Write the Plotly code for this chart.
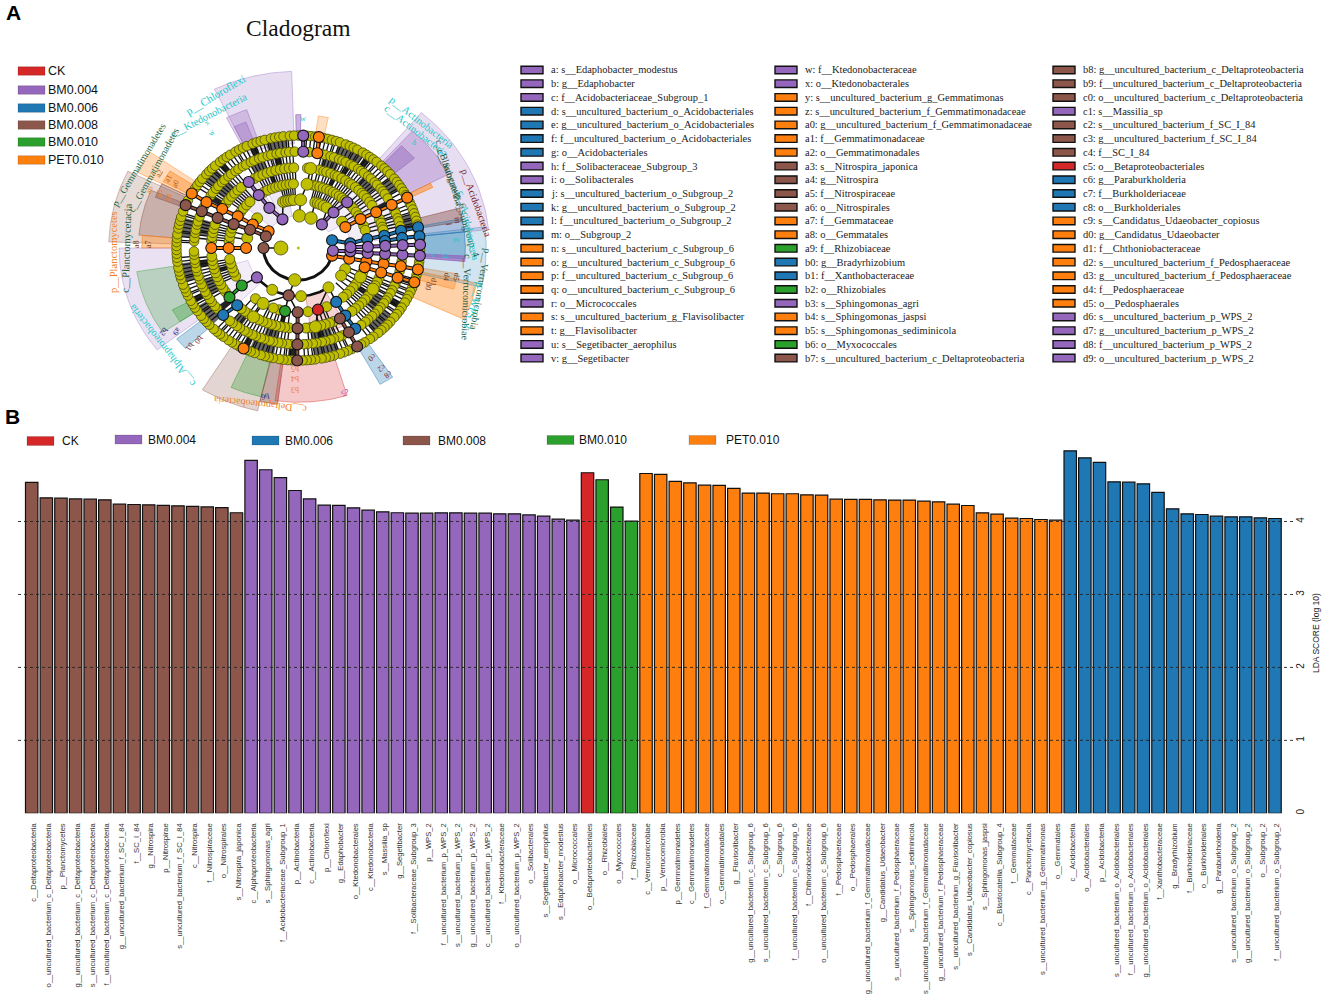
# LEfSe figure: cladogram (A) and LDA score bars (B)
import numpy as np
import plotly.graph_objects as go

W, H = 1325, 998
SERIF = "Liberation Serif"
SANS = "Liberation Sans"

group_colors = {"CK": "#d62728", "BM0.004": "#9467bd", "BM0.006": "#1f77b4",
                "BM0.008": "#8c564b", "BM0.010": "#2ca02c", "PET0.010": "#ff7f0e"}
YEL = "#bfbf00"

# --- panel B data ---
bar_labels_brown = ["c__Deltaproteobacteria", "o__uncultured_bacterium_c_Deltaproteobacteria", "p__Planctomycetes",
                    "g__uncultured_bacterium_c_Deltaproteobacteria", "s__uncultured_bacterium_c_Deltaproteobacteria",
                    "f__uncultured_bacterium_c_Deltaproteobacteria", "g__uncultured_bacterium_f_SC_I_84", "f__SC_I_84",
                    "g__Nitrospira", "p__Nitrospirae", "s__uncultured_bacterium_f_SC_I_84", "c__Nitrospira",
                    "f__Nitrospiraceae", "o__Nitrospirales", "s__Nitrospira_japonica"]
bar_values_brown = [4.535, 4.325, 4.32, 4.31, 4.306, 4.297, 4.238, 4.233, 4.229, 4.22, 4.215, 4.206, 4.20, 4.19, 4.12]
bar_labels_purple = ["c__Alphaproteobacteria", "s__Sphingomonas_agri", "f__Acidobacteriaceae_Subgroup_1",
                     "p__Actinobacteria", "c__Actinobacteria", "p__Chloroflexi", "g__Edaphobacter",
                     "o__Ktedonobacterales", "c__Ktedonobacteria", "s__Massilia_sp", "g__Segetibacter",
                     "f__Solibacteraceae_Subgroup_3", "p__WPS_2", "f__uncultured_bacterium_p_WPS_2",
                     "s__uncultured_bacterium_p_WPS_2", "g__uncultured_bacterium_p_WPS_2",
                     "c__uncultured_bacterium_p_WPS_2", "f__Ktedonobacteraceae", "o__uncultured_bacterium_p_WPS_2",
                     "o__Solibacterales", "s__Segetibacter_aerophilus", "s__Edaphobacter_modestus", "o__Micrococcales"]
bar_values_purple = [4.837, 4.709, 4.60, 4.425, 4.31, 4.224, 4.22, 4.187, 4.155, 4.133, 4.12, 4.114, 4.114,
                     4.119, 4.119, 4.114, 4.114, 4.105, 4.105, 4.09, 4.073, 4.032, 4.018]
bar_labels_red = ["o__Betaproteobacteriales"]
bar_values_red = [4.668]
bar_labels_green = ["o__Rhizobiales", "o__Myxococcales", "f__Rhizobiaceae"]
bar_values_green = [4.572, 4.197, 4.005]
bar_labels_orange = ["c__Verrucomicrobiae", "p__Verrucomicrobia", "p__Gemmatimonadetes", "c__Gemmatimonadetes",
                     "f__Gemmatimonadaceae", "o__Gemmatimonadales", "g__Flavisolibacter",
                     "g__uncultured_bacterium_c_Subgroup_6", "s__uncultured_bacterium_c_Subgroup_6", "c__Subgroup_6",
                     "f__uncultured_bacterium_c_Subgroup_6", "f__Chthoniobacteraceae",
                     "o__uncultured_bacterium_c_Subgroup_6", "f__Pedosphaeraceae", "o__Pedosphaerales",
                     "g__uncultured_bacterium_f_Gemmatimonadaceae", "g__Candidatus_Udaeobacter",
                     "s__uncultured_bacterium_f_Pedosphaeraceae", "s__Sphingomonas_sediminicola",
                     "s__uncultured_bacterium_f_Gemmatimonadaceae", "g__uncultured_bacterium_f_Pedosphaeraceae",
                     "s__uncultured_bacterium_g_Flavisolibacter", "s__Candidatus_Udaeobacter_copiosus",
                     "s__Sphingomonas_jaspsi", "c__Blastocatellia_Subgroup_4", "f__Gemmataceae", "c__Planctomycetacia",
                     "s__uncultured_bacterium_g_Gemmatimonas", "o__Gemmatales"]
bar_values_orange = [4.658, 4.645, 4.549, 4.53, 4.498, 4.494, 4.453, 4.389, 4.389, 4.38, 4.38, 4.366, 4.361, 4.306,
                     4.302, 4.302, 4.297, 4.293, 4.293, 4.279, 4.27, 4.238, 4.219, 4.119, 4.10, 4.046, 4.041, 4.027, 4.018]
bar_labels_blue = ["c__Acidobacteria", "o__Acidobacteriales", "p__Acidobacteria",
                   "s__uncultured_bacterium_o_Acidobacteriales", "f__uncultured_bacterium_o_Acidobacteriales",
                   "g__uncultured_bacterium_o_Acidobacteriales", "f__Xanthobacteraceae", "g__Bradyrhizobium",
                   "f__Burkholderiaceae", "o__Burkholderiales", "g__Paraburkholderia",
                   "s__uncultured_bacterium_o_Subgroup_2", "g__uncultured_bacterium_o_Subgroup_2", "o__Subgroup_2",
                   "f__uncultured_bacterium_o_Subgroup_2"]
bar_values_blue = [4.969, 4.873, 4.809, 4.544, 4.539, 4.516, 4.398, 4.174, 4.105, 4.096, 4.073, 4.064, 4.064, 4.05, 4.041]
grid_levels = [1, 2, 3, 4]

# --- taxa key of panel A, one list per column ---
key_col1 = [("a: s__Edaphobacter_modestus", "BM0.004"), ("b: g__Edaphobacter", "BM0.004"),
            ("c: f__Acidobacteriaceae_Subgroup_1", "BM0.004"), ("d: s__uncultured_bacterium_o_Acidobacteriales", "BM0.006"),
            ("e: g__uncultured_bacterium_o_Acidobacteriales", "BM0.006"), ("f: f__uncultured_bacterium_o_Acidobacteriales", "BM0.006"),
            ("g: o__Acidobacteriales", "BM0.006"), ("h: f__Solibacteraceae_Subgroup_3", "BM0.004"),
            ("i: o__Solibacterales", "BM0.004"), ("j: s__uncultured_bacterium_o_Subgroup_2", "BM0.006"),
            ("k: g__uncultured_bacterium_o_Subgroup_2", "BM0.006"), ("l: f__uncultured_bacterium_o_Subgroup_2", "BM0.006"),
            ("m: o__Subgroup_2", "BM0.006"), ("n: s__uncultured_bacterium_c_Subgroup_6", "PET0.010"),
            ("o: g__uncultured_bacterium_c_Subgroup_6", "PET0.010"), ("p: f__uncultured_bacterium_c_Subgroup_6", "PET0.010"),
            ("q: o__uncultured_bacterium_c_Subgroup_6", "PET0.010"), ("r: o__Micrococcales", "BM0.004"),
            ("s: s__uncultured_bacterium_g_Flavisolibacter", "PET0.010"), ("t: g__Flavisolibacter", "PET0.010"),
            ("u: s__Segetibacter_aerophilus", "BM0.004"), ("v: g__Segetibacter", "BM0.004")]
key_col2 = [("w: f__Ktedonobacteraceae", "BM0.004"), ("x: o__Ktedonobacterales", "BM0.004"),
            ("y: s__uncultured_bacterium_g_Gemmatimonas", "PET0.010"), ("z: s__uncultured_bacterium_f_Gemmatimonadaceae", "PET0.010"),
            ("a0: g__uncultured_bacterium_f_Gemmatimonadaceae", "PET0.010"), ("a1: f__Gemmatimonadaceae", "PET0.010"),
            ("a2: o__Gemmatimonadales", "PET0.010"), ("a3: s__Nitrospira_japonica", "BM0.008"),
            ("a4: g__Nitrospira", "BM0.008"), ("a5: f__Nitrospiraceae", "BM0.008"), ("a6: o__Nitrospirales", "BM0.008"),
            ("a7: f__Gemmataceae", "PET0.010"), ("a8: o__Gemmatales", "PET0.010"), ("a9: f__Rhizobiaceae", "BM0.010"),
            ("b0: g__Bradyrhizobium", "BM0.006"), ("b1: f__Xanthobacteraceae", "BM0.006"), ("b2: o__Rhizobiales", "BM0.010"),
            ("b3: s__Sphingomonas_agri", "BM0.004"), ("b4: s__Sphingomonas_jaspsi", "PET0.010"),
            ("b5: s__Sphingomonas_sediminicola", "PET0.010"), ("b6: o__Myxococcales", "BM0.010"),
            ("b7: s__uncultured_bacterium_c_Deltaproteobacteria", "BM0.008")]
key_col3 = [("b8: g__uncultured_bacterium_c_Deltaproteobacteria", "BM0.008"), ("b9: f__uncultured_bacterium_c_Deltaproteobacteria", "BM0.008"),
            ("c0: o__uncultured_bacterium_c_Deltaproteobacteria", "BM0.008"), ("c1: s__Massilia_sp", "BM0.004"),
            ("c2: s__uncultured_bacterium_f_SC_I_84", "BM0.008"), ("c3: g__uncultured_bacterium_f_SC_I_84", "BM0.008"),
            ("c4: f__SC_I_84", "BM0.008"), ("c5: o__Betaproteobacteriales", "CK"), ("c6: g__Paraburkholderia", "BM0.006"),
            ("c7: f__Burkholderiaceae", "BM0.006"), ("c8: o__Burkholderiales", "BM0.006"),
            ("c9: s__Candidatus_Udaeobacter_copiosus", "PET0.010"), ("d0: g__Candidatus_Udaeobacter", "PET0.010"),
            ("d1: f__Chthoniobacteraceae", "PET0.010"), ("d2: s__uncultured_bacterium_f_Pedosphaeraceae", "PET0.010"),
            ("d3: g__uncultured_bacterium_f_Pedosphaeraceae", "PET0.010"), ("d4: f__Pedosphaeraceae", "PET0.010"),
            ("d5: o__Pedosphaerales", "PET0.010"), ("d6: s__uncultured_bacterium_p_WPS_2", "BM0.004"),
            ("d7: g__uncultured_bacterium_p_WPS_2", "BM0.004"), ("d8: f__uncultured_bacterium_p_WPS_2", "BM0.004"),
            ("d9: o__uncultured_bacterium_p_WPS_2", "BM0.004")]

# --- cladogram data: angles are compass degrees, levels are tree depth ---
yellow_l7 = [0, 4, 6, 8, 12, 14, 16, 18, 20, 23, 25, 27, 29, 32, 34, 36, 38, 40, 43, 45, 47, 49, 52, 54, 56, 58, 60, 62, 66,
             68, 70, 72, 74, 76, 78, 81, 86, 91, 97, 99, 104, 106, 109, 111, 113, 115, 117, 119, 122, 124, 126, 128, 131, 133,
             135, 137, 139, 142, 144, 147, 149, 154, 156, 158, 160, 163, 165, 167, 169, 172, 174, 176, 178, 183, 185, 187, 189,
             192, 194, 196, 198, 201, 203, 205, 209, 211, 213, 215, 218, 220, 222, 224, 227, 229, 231, 233, 236, 238, 240, 242,
             245, 247, 249, 251, 254, 256, 258, 260, 263, 265, 267, 269, 271, 273, 275, 277, 280, 282, 284, 286, 289, 295, 302,
             304, 306, 308, 311, 313, 315, 317, 320, 322, 324, 326, 329, 331, 333, 335, 338, 340, 342, 344, 347, 349, 351, 353,
             356, 358]
yellow_l6 = [6, 13, 15, 18, 20, 23, 25, 27, 30, 32, 35, 37, 39, 42, 44, 47, 49, 52, 54, 56, 59, 67, 69, 72, 74, 77, 98, 104, 111,
             113, 116, 118, 121, 123, 125, 128, 130, 133, 135, 138, 140, 143, 155, 157, 160, 162, 165, 167, 170, 172, 175, 177,
             184, 186, 189, 191, 194, 196, 199, 201, 204, 206, 209, 211, 214, 216, 219, 221, 231, 233, 236, 238, 241, 243, 246,
             248, 251, 253, 256, 258, 261, 263, 266, 268, 274, 276, 279, 281, 284, 286, 289, 295, 303, 305, 308, 310, 313, 315,
             318, 320, 323, 325, 328, 330, 333, 335, 338, 340, 343, 345, 348, 350, 353, 355, 358]
yellow_l5 = [6, 14, 17, 19, 22, 25, 27, 30, 33, 36, 38, 41, 44, 47, 49, 52, 55, 58, 69, 72, 75, 77, 98, 112, 115, 118, 121, 124,
             127, 130, 133, 136, 139, 142, 156, 159, 162, 165, 172, 175, 186, 189, 192, 195, 198, 201, 204, 207, 215, 218, 221,
             237, 240, 243, 246, 249, 252, 255, 258, 261, 264, 275, 278, 281, 284, 287, 304, 307, 310, 313, 316, 319, 330, 333,
             336, 339, 342, 345, 348, 351, 354, 357]
yellow_l4 = [12, 15, 18, 21, 24, 27, 30, 33, 36, 39, 42, 49, 52, 56, 60, 70, 74, 112, 116, 120, 124, 128, 132, 136, 140, 156,
             172, 196, 201, 218, 244, 248, 252, 256, 260, 276, 280, 284, 288, 304, 308, 312, 316, 330, 334, 338, 341, 344, 347,
             350, 353, 356]
yellow_l3 = [19, 22, 25, 29, 33, 57, 116, 125, 144.7, 177, 210, 282, 308, 343, 346, 349, 352, 355]
yellow_l2 = [1.7, 21.3, 185.9]
yellow_l1 = [270]

# coloured clade nodes: (group, list of (level, angle)) - one chain per clade
clade_chains = [
    ("PET0.010", [(2, 301.4), (3, 299.2), (4, 299.5), (5, 299), (6, 298.4), (7, 299)]),
    ("BM0.008", [(2, 291.3), (3, 292.3), (4, 291.8), (5, 292), (6, 292.4), (7, 292.4)]),
    ("BM0.008", [(2, 270)]),
    ("PET0.010", [(3, 270), (4, 270), (5, 270)]),
    ("BM0.004", [(2, 333), (3, 326.3), (4, 325.4), (5, 325.3)]),
    ("BM0.004", [(2, 42.7), (3, 42.4), (4, 44.6)]),
    ("PET0.010", [(3, 64.3), (4, 63.3), (5, 63.5), (6, 63.4), (7, 63.4)]),
    ("BM0.006", [(2, 76), (3, 84.5), (4, 82), (5, 81.2), (6, 79.7), (7, 79.4)]),
    ("BM0.006", [(5, 85), (6, 84), (7, 84)]),
    ("PET0.010", [(2, 103.8), (3, 102.9), (4, 102), (5, 101.5), (6, 100.9), (7, 101)]),
    ("PET0.010", [(4, 107.5), (5, 107.7), (6, 107.9), (7, 107.7)]),
    ("BM0.004", [(2, 94.8), (3, 94), (4, 94.5), (5, 94.2), (6, 94), (7, 93.9)]),
    ("BM0.004", [(3, 89), (4, 89), (5, 88.5), (6, 88.3), (7, 88.3)]),
    ("BM0.008", [(4, 180.5), (5, 180.5), (6, 180.5), (7, 180.5)]),
    ("BM0.006", [(4, 147), (5, 147.3), (6, 146.9)]),
    ("BM0.008", [(5, 151.4), (6, 151), (7, 151.1)]),
    ("BM0.010", [(4, 234.3), (5, 232.3)]),
    ("BM0.006", [(5, 224.6), (6, 226)]),
    ("BM0.010", [(4, 191)]),
    ("CK", [(4, 163.6)]),
    ("BM0.008", [(3, 190.6)]),
    ("BM0.004", [(3, 232.4)]),
    ("BM0.004", [(6, 2.7), (7, 2.3)]),
    ("PET0.010", [(6, 10.5), (7, 9.7)]),
    ("PET0.010", [(7, 206.7)]),
]
# plain black branches between yellow nodes
branch_chains = [[(1, 270), (2, 270)], [(2, 1.7), (3, 2.5), (4, 7.2), (5, 8.1)], [(2, 21.3), (3, 19)],
                 [(3, 190.6), (2, 185.9)], [(3, 190.6), (4, 210.4), (5, 211)], [(3, 190.6), (4, 180.5)],
                 [(3, 190.6), (4, 191)], [(3, 144.7), (4, 147)], [(3, 144.7), (4, 163.6), (5, 168.6)],
                 [(3, 232.4), (4, 234.3)], [(2, 333), (3, 343)], [(2, 42.7), (3, 34)]]
yellow_big = [(4, 210.4), (5, 211), (5, 168.6), (4, 7.2), (5, 8.1), (3, 2.5), (4, 116.7), (5, 120.8)]
arc_levels = [2, 3, 4, 5]
arc_starts = [94, 144.7, 147, 201]
arc_ends = [270, 232.4, 191, 224.6]
arc_widths = [3, 2.6, 1.5, 1]

# clade wedges: group, first angle, last angle, inner level, outer level, alpha
wedge_groups = ["BM0.004", "BM0.004", "BM0.004", "BM0.004", "BM0.004", "BM0.004", "BM0.004", "PET0.010", "PET0.010",
                "BM0.008", "BM0.008", "BM0.008", "PET0.010", "BM0.004", "BM0.010", "BM0.010", "BM0.006", "BM0.008",
                "BM0.010", "BM0.008", "CK", "CK", "BM0.006", "PET0.010", "PET0.010", "BM0.006", "BM0.006", "BM0.004",
                "BM0.004", "BM0.004", "BM0.004", "PET0.010", "BM0.008", "BM0.006", "BM0.004", "PET0.010", "BM0.004"]
wedge_from = [334, 333, 334, 40, 42, 43, 333, 297, 298, 272, 275, 291, 270, 232, 236, 236, 226, 193, 193, 187, 163, 150,
              146, 102, 100, 83, 84, 93, 310, 40, 60, 62, 75, 79, 359, 8, 225]
wedge_to = [358, 341, 339, 84, 62, 50, 350, 305, 303, 296, 293, 297, 275, 270, 261, 242, 231, 212, 204, 193, 188, 172,
            151, 115, 106, 103, 94, 95, 330, 60, 84, 64, 80, 84, 361, 12, 255]
wedge_inner = [6.5, 7, 7, 7, 7, 7, 2, 7, 7, 7, 7, 7, 7, 7, 7, 7, 7, 7, 7, 7, 7, 3, 7, 7, 7, 7, 7, 7, 2, 2, 3, 7, 7, 7, 7, 7, 3]
wedge_outer = [11, 9.1, 8.4, 11, 9.8, 8.7, 6, 10.4, 8.8, 10.9, 9.2, 8.8, 9, 10.3, 9.4, 8.2, 9, 10.4, 9.5, 9.8, 9.6, 5.5,
               9.7, 10.5, 9.3, 10.8, 9.6, 9.6, 5, 6, 6, 8.6, 9.6, 9.6, 8.3, 8.3, 5]
wedge_alpha = [.22, .3, .35, .22, .32, .45, .15, .28, .38, .22, .32, .4, .4, .2, .25, .3, .3, .25, .3, .5, .25, .2, .3, .36, .3,
               .2, .4, .7, .15, .12, .12, .5, .45, .3, .5, .25, .12]

# stripes between rings (radial branch bundles); grey and dark runs where they merge
stripes_67 = [2, 4, 6, 8, 10, 11, 13, 15, 17, 18, 20, 21, 23, 25, 27, 28, 30, 31, 33, 35, 37, 38, 40, 41, 43, 45, 47, 48, 50,
              51, 53, 55, 57, 58, 60, 67, 69, 71, 72, 74, 75, 77, 78, 106, 107, 109, 110, 112, 113, 115, 116, 118, 120, 122, 123,
              125, 126, 128, 130, 132, 133, 135, 137, 139, 140, 142, 144, 155, 156, 158, 160, 161, 163, 165, 167, 168, 170, 172,
              173, 175, 177, 184, 186, 187, 189, 191, 193, 195, 196, 198, 200, 202, 203, 205, 207, 209, 211, 212, 214, 216, 218,
              220, 221, 223, 228, 230, 232, 234, 235, 237, 239, 241, 243, 245, 246, 248, 250, 252, 254, 255, 257, 259, 261, 263,
              265, 273, 274, 276, 278, 279, 281, 283, 285, 287, 288, 303, 305, 307, 308, 310, 312, 314, 315, 317, 319, 321, 323,
              325, 327, 329, 330, 332, 334, 336, 338, 339, 341, 343, 345, 346, 348, 350, 352, 354, 355, 357]
stripes_56 = [13, 15, 16, 18, 20, 21, 23, 25, 27, 28, 30, 32, 33, 35, 37, 39, 41, 42, 44, 46, 48, 50, 51, 53, 55, 57, 68, 70,
              71, 73, 75, 77, 112, 114, 115, 117, 119, 120, 122, 124, 126, 128, 129, 131, 133, 135, 137, 139, 141, 156, 158, 159,
              161, 163, 165, 167, 168, 170, 172, 174, 186, 188, 190, 192, 194, 196, 197, 199, 201, 203, 205, 207, 209, 211, 213,
              215, 216, 218, 220, 238, 240, 242, 244, 246, 248, 250, 252, 254, 256, 258, 260, 262, 264, 276, 278, 280, 281, 283,
              285, 287, 305, 307, 309, 311, 313, 315, 317, 319, 321, 323, 330, 332, 334, 336, 338, 340, 342, 344, 345, 347, 349,
              351, 353, 355, 357]
stripes_45 = [10, 13, 15, 18, 20, 22, 24, 26, 29, 31, 33, 35, 37, 39, 41, 46, 49, 51, 53, 56, 59, 70, 73, 76, 114, 116, 118, 120,
              122, 124, 127, 129, 131, 133, 135, 138, 140, 158, 160, 163, 166, 187, 190, 192, 195, 197, 200, 203, 205, 212, 215,
              220, 244, 246, 248, 250, 252, 254, 256, 258, 260, 276, 278, 280, 282, 284, 286, 288, 306, 308, 310, 312, 314, 316,
              318, 320, 332, 334, 336, 338, 340, 342, 344, 346, 348, 350, 352, 354, 356, 358]
stripes_34 = [14, 16, 18, 20, 22, 25, 27, 29, 31, 34, 37, 39, 54, 58, 113, 117, 121, 125, 130, 135, 280, 285, 345, 347, 349, 351,
              353, 355, 357]
grey_from_67 = [20, 50, 72, 128, 160, 192, 226, 252, 276, 308, 344]
grey_to_67 = [33, 58, 80, 140, 172, 204, 238, 262, 286, 316, 354]
grey_from_56 = [14, 40, 122, 160, 192, 214, 240, 278, 306, 332]
grey_to_56 = [24, 50, 132, 172, 200, 220, 250, 288, 316, 340]
dark_from_67 = [34, 120, 181, 205, 240, 318, 336]
dark_to_67 = [37, 123, 185, 208, 243, 321, 339]
dark_from_56 = [28, 60, 165, 228, 258, 300, 346]
dark_to_56 = [31, 63, 168, 232, 262, 304, 350]
dark_from_45 = [24, 124, 190, 252, 340]
dark_to_45 = [27, 127, 193, 255, 343]

# --- texts: (text, x px, y px, angle, colour, size) ---
clade_texts = [
    ("p__Chloroflexi", 215, 95, -31, "#19c8c8", 11), ("c__Ktedonobacteria", 208, 115, -27, "#19c8c8", 10.5),
    ("p__Gemmatimonadetes", 138, 165, -59, "#1f6b4a", 10), ("c__Gemmatimonadetes", 153, 170, -61, "#1f6b4a", 10),
    ("p__Planctomycetes", 113, 252, -90, "#f08020", 10.5), ("c__Planctomycetacia", 126, 248, -88, "#1f5a3a", 10.5),
    ("c__Alphaproteobacteria", 162, 346, -128, "#19c8c8", 10.5), ("c__Deltaproteobacteria", 260, 404, -174, "#f08020", 10),
    ("p__Actinobacteria", 422, 122, 38, "#19c8c8", 10.5), ("c__Actinobacteria", 416, 130, 38, "#19c8c8", 10.5),
    ("c__Blastocatellia_Subgroup_4", 457, 198, 72, "#1f5a3a", 10), ("c__Subgroup_6", 452, 178, 68, "#1f5a3a", 10),
    ("p__Acidobacteria", 477, 203, 70, "#7a1f1f", 10), ("c__Acidobacteria", 469, 225, 78, "#19c8c8", 10),
    ("p__Verrucomicrobia", 480, 290, 100, "#1f6b4a", 10), ("c__Verrucomicrobiae", 467, 297, 92, "#1f5a3a", 10),
    ("p__WPS_2", 474, 306, 106, "#19c8c8", 10.5),
]
letter_texts = [
    ("a2", 159, 173, -60, "#b06010"), ("a1", 168, 178, -60, "#b06010"), ("a0", 176, 184, -62, "#b06010"),
    ("a6", 150, 190, -70, "#f08020"), ("a5", 159, 193, -70, "#f08020"), ("a4", 168, 197, -70, "#f08020"),
    ("a8", 136, 244, -90, "#6a3a20"), ("a7", 148, 244, -90, "#6a3a20"), ("x", 207, 123, -50, "#19c8c8"),
    ("w", 212, 133, -50, "#19c8c8"), ("b2", 164, 332, 125, "#202070"), ("a9", 177, 332, 125, "#202070"),
    ("b1", 190, 347, 125, "#7a1f1f"), ("b0", 199, 340, 125, "#7a1f1f"), ("b5", 295, 368, 180, "#f08020"),
    ("b4", 295, 379, 180, "#f08020"), ("b3", 295, 390, 180, "#f08020"), ("b6", 265, 396, 170, "#202070"),
    ("c5", 345, 393, 155, "#c020c0"), ("c0", 372, 358, 145, "#7a1f1f"), ("c2", 381, 368, 145, "#7a1f1f"),
    ("c8", 388, 375, 145, "#7a1f1f"), ("d4", 447, 277, 100, "#6a3a20"), ("d1", 433, 282, 100, "#6a3a20"),
    ("d0", 428, 286, 100, "#6a3a20"), ("d5", 457, 277, 100, "#6a3a20"), ("m", 458, 220, 80, "#7a1f1f"),
    ("l", 449, 224, 85, "#7a1f1f"), ("g", 458, 240, 90, "#19c8c8"), ("d", 446, 256, 92, "#19c8c8"),
    ("e", 434, 256, 92, "#19c8c8"), ("b", 414, 143, 40, "#19c8c8"), ("w", 303, 119, -5, "#19c8c8"),
]

# pixel layout helpers
def fx(px):
    return px / W

def fy(py):
    return 1 - py / H

def pos(level, angle):
    a = np.radians(angle)
    return level * np.sin(a), level * np.cos(a)

fig = go.Figure()

# --- panel B ---
bar_labels = bar_labels_brown + bar_labels_purple + bar_labels_red + bar_labels_green + bar_labels_orange + bar_labels_blue
bar_values = bar_values_brown + bar_values_purple + bar_values_red + bar_values_green + bar_values_orange + bar_values_blue
bar_colors = ([group_colors["BM0.008"]] * len(bar_labels_brown) + [group_colors["BM0.004"]] * len(bar_labels_purple)
              + [group_colors["CK"]] * len(bar_labels_red) + [group_colors["BM0.010"]] * len(bar_labels_green)
              + [group_colors["PET0.010"]] * len(bar_labels_orange) + [group_colors["BM0.006"]] * len(bar_labels_blue))
fig.add_trace(go.Bar(x=bar_labels, y=bar_values, marker=dict(color=bar_colors, line=dict(color="#111", width=1.2)),
                     width=0.85, showlegend=False))

# --- panel A, wedges first so nodes sit on top ---
for g, t0, t1, r0, r1, al in zip(wedge_groups, wedge_from, wedge_to, wedge_inner, wedge_outer, wedge_alpha):
    th = np.linspace(t0, t1, 24)
    xo, yo = pos(r1, th)
    xi, yi = pos(r0, th[::-1])
    c = group_colors[g]
    rgb = tuple(int(c[i:i + 2], 16) for i in (1, 3, 5))
    fig.add_trace(go.Scatter(x=np.r_[xo, xi, xo[0]], y=np.r_[yo, yi, yo[0]], mode="lines", fill="toself",
                             fillcolor="rgba(%d,%d,%d,%.2f)" % (*rgb, al),
                             line=dict(color="rgba(%d,%d,%d,%.2f)" % (*rgb, min(al + .15, 1)), width=1),
                             xaxis="x2", yaxis="y2", showlegend=False, hoverinfo="skip"))

def add_sectors(level, starts, ends, color):
    for t0, t1 in zip(starts, ends):
        th = np.linspace(t0, t1, 6)
        xo, yo = pos(level + 0.9, th)
        xi, yi = pos(level + 0.1, th[::-1])
        fig.add_trace(go.Scatter(x=np.r_[xo, xi], y=np.r_[yo, yi], mode="lines", fill="toself", fillcolor=color,
                                 line=dict(width=0), xaxis="x2", yaxis="y2", showlegend=False, hoverinfo="skip"))

def add_stripes(level, angles, width=1.3):
    xs, ys = [], []
    for t in angles:
        x0, y0 = pos(level + 0.05, t)
        x1, y1 = pos(level + 0.95, t)
        xs += [x0, x1, None]
        ys += [y0, y1, None]
    fig.add_trace(go.Scatter(x=xs, y=ys, mode="lines", line=dict(color="#111111", width=width), xaxis="x2", yaxis="y2",
                             showlegend=False, hoverinfo="skip"))

add_sectors(6, grey_from_67, grey_to_67, "#666666")
add_sectors(5, grey_from_56, grey_to_56, "#666666")
add_sectors(6, dark_from_67, dark_to_67, "#222222")
add_sectors(5, dark_from_56, dark_to_56, "#222222")
add_sectors(4, dark_from_45, dark_to_45, "#222222")
add_stripes(6, stripes_67)
add_stripes(5, stripes_56)
add_stripes(4, stripes_45)
add_stripes(3, stripes_34)

# main arcs and branches
for lev, t0, t1, w in zip(arc_levels, arc_starts, arc_ends, arc_widths):
    ax, ay = pos(lev, np.linspace(t0, t1, 60))
    fig.add_trace(go.Scatter(x=ax, y=ay, mode="lines", line=dict(color="#111", width=w), xaxis="x2", yaxis="y2",
                             showlegend=False, hoverinfo="skip"))
for chain in branch_chains:
    bx, by = pos(np.array([c[0] for c in chain]), np.array([c[1] for c in chain]))
    fig.add_trace(go.Scatter(x=bx, y=by, mode="lines", line=dict(color="#111", width=1.5), xaxis="x2", yaxis="y2",
                             showlegend=False, hoverinfo="skip"))

# yellow nodes, outer rings first as in the picture
ring_sizes = {7: 9.5, 6: 9.5, 5: 10, 4: 10, 3: 11, 2: 12.5, 1: 14}
for lev, angles in [(7, yellow_l7), (6, yellow_l6), (5, yellow_l5), (4, yellow_l4), (3, yellow_l3), (2, yellow_l2), (1, yellow_l1)]:
    nx, ny = pos(lev, np.array(angles, dtype=float))
    fig.add_trace(go.Scatter(x=nx, y=ny, mode="markers", xaxis="x2", yaxis="y2", showlegend=False, hoverinfo="skip",
                             marker=dict(color=YEL, size=ring_sizes[lev], line=dict(color="#4a4a10", width=0.8))))
bx, by = pos(np.array([b[0] for b in yellow_big]), np.array([b[1] for b in yellow_big]))
fig.add_trace(go.Scatter(x=bx, y=by, mode="markers", xaxis="x2", yaxis="y2", showlegend=False, hoverinfo="skip",
                         marker=dict(color=YEL, size=12, line=dict(color="#4a4a10", width=0.8))))
fig.add_trace(go.Scatter(x=[0], y=[0], mode="markers", xaxis="x2", yaxis="y2", showlegend=False, hoverinfo="skip",
                         marker=dict(color=YEL, size=3)))

# coloured clades: black casing, coloured link, node
for g, chain in clade_chains:
    cx, cy = pos(np.array([c[0] for c in chain], dtype=float), np.array([c[1] for c in chain], dtype=float))
    if len(chain) > 1:
        fig.add_trace(go.Scatter(x=cx, y=cy, mode="lines", line=dict(color="#111", width=4), xaxis="x2", yaxis="y2",
                                 showlegend=False, hoverinfo="skip"))
        fig.add_trace(go.Scatter(x=cx, y=cy, mode="lines", line=dict(color=group_colors[g], width=2), xaxis="x2", yaxis="y2",
                                 showlegend=False, hoverinfo="skip"))
    fig.add_trace(go.Scatter(x=cx, y=cy, mode="markers", xaxis="x2", yaxis="y2", showlegend=False, hoverinfo="skip",
                             marker=dict(color=group_colors[g], size=11, line=dict(color="#111", width=1.1))))

# --- shapes and texts placed by pixel ---
shapes = []
annos = []

def text(s, x, y, size, color="#111", family=SANS, angle=0, anchor="center", bold=False):
    annos.append(dict(text="<b>%s</b>" % s if bold else s, x=fx(x), y=fy(y), xref="paper", yref="paper", showarrow=False,
                      xanchor=anchor, yanchor="middle", textangle=angle, font=dict(family=family, size=size, color=color)))

def swatch(x0, x1, y0, y1, color, edge, width=1):
    shapes.append(dict(type="rect", xref="paper", yref="paper", x0=fx(x0), x1=fx(x1), y0=fy(y0), y1=fy(y1),
                       fillcolor=color, line=dict(color=edge, width=width), layer="above"))

text("A", 13, 13, 21, "#000", SANS, bold=True)
text("B", 12, 416, 21, "#000", SANS, bold=True)
text("Cladogram", 298, 28, 23.5, "#111", SERIF)

# left legend of panel A
legend_names = list(group_colors)
legend_a_y = [71, 90, 108, 125, 142, 160]
for name, y in zip(legend_names, legend_a_y):
    swatch(18, 45, y - 4.3, y + 4.3, group_colors[name], "rgba(0,0,0,0.15)")
    text(name, 46, y, 12.5, anchor="left")

# legend of panel B
legend_b_sw = [27, 115, 252, 403, 547, 689]
legend_b_tx = [60, 146, 283, 436, 577, 724]
legend_b_y = [441, 439.5, 440.5, 440.5, 440, 440]
for name, sx, tx, y in zip(legend_names, legend_b_sw, legend_b_tx, legend_b_y):
    swatch(sx, sx + 27, y - 4.5, y + 4.5, group_colors[name], "rgba(0,0,0,0.15)")
    text(name, tx, y, 12, anchor="left")

# taxa key
for col, sw_x, tx_x in [(key_col1, 521, 549), (key_col2, 775, 803), (key_col3, 1053, 1081)]:
    for i, (label, grp) in enumerate(col):
        y = 70 + 13.72 * i
        swatch(sw_x, sw_x + 22, y - 3.8, y + 3.8, group_colors[grp], "#111", 1.4)
        text(label, tx_x, y, 10.45, "#222", SERIF, anchor="left")

for s, x, y, ang, col, size in clade_texts:
    text(s, x, y, size, col, SERIF, angle=ang)
for s, x, y, ang, col in letter_texts:
    text(s, x, y, 8, col, SERIF, angle=ang)

text("LDA SCORE (log 10)", 1316, 633, 8.5, "#222", angle=-90)

# dotted score lines run over the bars
for lev in grid_levels:
    shapes.append(dict(type="line", xref="paper", yref="y", x0=fx(18), x1=fx(1293), y0=lev, y1=lev,
                       line=dict(color="#222", width=0.9, dash="dot"), layer="above"))

fig.update_layout(
    width=W, height=H, margin=dict(l=0, r=0, t=0, b=0), paper_bgcolor="white", plot_bgcolor="rgba(0,0,0,0)",
    showlegend=False, shapes=shapes, annotations=annos,
    xaxis=dict(domain=[fx(20), fx(1293)], range=[(20 - 31.7) / 14.63, 85 + (1293 - 1275) / 14.63], type="category",
               categoryorder="array", categoryarray=bar_labels, tickmode="array", tickvals=bar_labels, ticktext=bar_labels,
               tickangle=-90, tickfont=dict(family=SANS, size=7.6, color="#333"), ticks="outside", ticklen=6,
               ticklabelshift=2, tickcolor="rgba(0,0,0,0)", showgrid=False, showline=False, zeroline=False, automargin=False),
    yaxis=dict(domain=[fy(813.3), fy(450)], range=[0, 4.98], side="right", tickvals=[0, 1, 2, 3, 4], tickangle=-90,
               tickfont=dict(family=SANS, size=10, color="#222"), ticks="", showgrid=False, showline=False, zeroline=False,
               automargin=False),
    xaxis2=dict(domain=[0, fx(560)], range=[-298.3 / 17.4, (560 - 298.3) / 17.4], visible=False, anchor="y2"),
    yaxis2=dict(domain=[fy(425), 1], range=[-(425 - 248) / 16.07, 248 / 16.07], visible=False, anchor="x2"),
)

fig.write_html("out.html", config=dict(displayModeBar=False),
               post_script="document.body.style.margin='0';document.body.style.overflow='hidden';")
